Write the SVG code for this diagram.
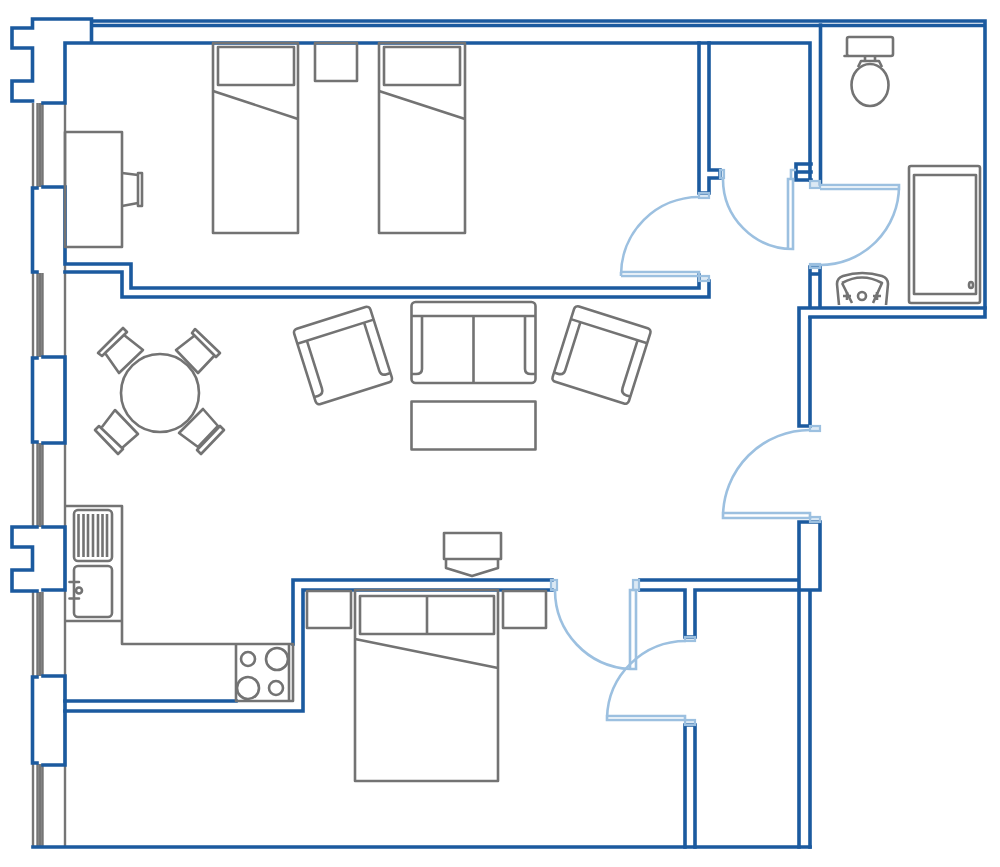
<svg xmlns="http://www.w3.org/2000/svg" width="1000" height="867" viewBox="0 0 1000 867">
<style>
.w{fill:none;stroke:#1b5a9f;stroke-width:3.600;stroke-linejoin:miter;stroke-linecap:square}
.f{fill:none;stroke:#737373;stroke-width:2.600;stroke-linejoin:round}
.g{fill:none;stroke:#757575;stroke-width:2.400}
.d{fill:none;stroke:#9cc0e0;stroke-width:2.600}
.h{fill:#9cc0e0;fill-opacity:.35;stroke:#9cc0e0;stroke-width:2.200}
</style>
<rect width="1000" height="867" fill="#fff"/>
<defs>
<g id="win">
<path class="g" d="M33 0V84M37.500 0V84M40 0V84M42.500 0V84"/>
</g>
<g id="chair">
<rect class="f" x="-40" y="-39.500" width="80" height="79" rx="4"/>
<path class="f" d="M-40-25H40M-30-25V25Q-30 31-36 31H-40M30-25V25Q30 31 36 31H40"/>
</g>
</defs>
<g id="windows">
<use href="#win" y="103"/><use href="#win" y="273"/><use href="#win" y="443"/><use href="#win" y="592"/><use href="#win" y="764"/>
</g>
<g id="inner-face"><path class="g" d="M65 103V847"/></g>
<g id="walls">
<path class="w" d="M91.500 19H32.500V28H12V48H32.500V81H12V101H32.500M43 103H65V43H810V180M91.500 19V43M91.500 21H985V317H810M91.500 25.500H985M820.500 25V184"/>
<path class="w" d="M37 188H32.500V272H37M43 187H65V264H131V288H699V275M65 272H122V297H709V281M699 43V193H709V178H720V170H709V43"/>
<path class="w" d="M796 164H811M796 172H811M796 180H811M796 164V180"/>
<path class="w" d="M32.500 358H37M32.500 358V442H37M43 357H65V443H43M43 527H65V590H43M37 527H12V547H32.500V570H12V591H37"/>
<path class="w" d="M37 677H32.500V763H37M43 676H65V765H43M33 847H810"/>
<path class="w" d="M65 701H236M65 711H303V590H552M293 644V580H552"/>
<path class="w" d="M810 267H820M810 274H820M810 267V307M820 267V307M799 426V308H985M810 426V318M799 426H810M810 522H820V590H695V637H685V590H640M799 522H810M799 522V847M810 590V847M640 580H799M685 725H695M685 725V847M695 725V847"/>
</g>
<g id="doors">
<path class="d" d="M699 197A78 78 0 0 0 621 275M621 272H699V276M621 276H699M621 272V276"/>
<rect class="h" x="699" y="193" width="10" height="5"/><rect class="h" x="699" y="276" width="10" height="5"/>
<path class="d" d="M723 178A70 70 0 0 0 793 249M788 179H793V249H788ZM791 179V170H796"/>
<rect class="h" x="720" y="170" width="4" height="8"/>
<path class="d" d="M820 265A79 79 0 0 0 899 186M820 185H899V189H820M811 265H820"/>
<rect class="h" x="810" y="181" width="10" height="7"/><rect class="h" x="810" y="264" width="10" height="4"/>
<path class="d" d="M810 430A87 87 0 0 0 723 517M723 513H810V518H723Z"/>
<rect class="h" x="810" y="426" width="10" height="5"/><rect class="h" x="810" y="517" width="10" height="5"/>
<path class="d" d="M555 590A79 79 0 0 0 630 669M630 590H636V669H630Z"/>
<rect class="h" x="551" y="580" width="6" height="10"/><rect class="h" x="633" y="580" width="6" height="10"/>
<path class="d" d="M686 641A79 79 0 0 0 607 718M607 716H685V720H607Z"/>
<rect class="h" x="685" y="637" width="10" height="4"/><rect class="h" x="685" y="720" width="10" height="5"/>
</g>
<g id="bedroom-1">
<rect class="f" x="213" y="43" width="85" height="190"/><rect class="f" x="218" y="47" width="76" height="38"/><path class="f" d="M213 91L298 119"/>
<rect class="f" x="379" y="43" width="86" height="190"/><rect class="f" x="384" y="47" width="76" height="38"/><path class="f" d="M379 91L465 119"/>
<rect class="f" x="315" y="43" width="42" height="38"/>
</g>
<g id="desk">
<rect class="f" x="65" y="132" width="57" height="115"/>
<path class="f" d="M122 173L138 175M122 206L138 203"/>
<rect class="f" x="138" y="173" width="4" height="33"/>
</g>
<g id="dining">
<circle class="f" cx="160" cy="393" r="39"/>
<path class="f" d="M98 353L123 328L127 332L102 356ZM105 353L124 335L143 350L119 373L105 353"/>
<path class="f" d="M195 329L220 353L216 357L192 333ZM194 336L176 350L198 373L215 355"/>
<path class="f" d="M95 430L99 426L123 449L118 454ZM102 427L115 410L138 434L122 448"/>
<path class="f" d="M197 450L220 426L224 430L201 454ZM179 433L203 409L218 426L198 447Z"/>
</g>
<g id="lounge">
<rect class="f" x="411.500" y="302" width="124" height="81" rx="4"/>
<path class="f" d="M411.500 316H535.500M473.500 316V383M422 316V369Q422 374 416 374H411.500M525 316V369Q525 374 531 374H535.500"/>
<rect class="f" x="411.500" y="401.500" width="124" height="48"/>
<use href="#chair" transform="translate(343 355.500) rotate(-17.500)"/>
<use href="#chair" transform="translate(601.500 355) rotate(17.500)"/>
<rect class="f" x="444" y="533" width="57" height="26"/>
<path class="f" d="M446 559V568L472 576L498 568V559"/>
</g>
<g id="kitchen">
<path class="f" d="M65 506H122V644H293V701H236V644M65 621H122M236 701H293M289 644V701"/>
<rect class="f" x="74" y="510" width="38" height="51" rx="4"/>
<path class="f" d="M78.500 514V557M83.500 514V557M88 514V557M93 514V557M98 514V557M102.500 514V557M107 514V557" stroke-width="2.400"/>
<rect class="f" x="74" y="566" width="38" height="51" rx="4"/>
<circle class="f" cx="79" cy="590.500" r="3"/>
<path class="f" d="M69.500 582H79M69.500 598.500H79" stroke-width="4" stroke-linecap="round"/>
<circle class="f" cx="248" cy="659" r="7"/><circle class="f" cx="277" cy="659" r="11"/><circle class="f" cx="248" cy="688" r="11"/><circle class="f" cx="276" cy="688" r="7"/>
</g>
<g id="bedroom-2">
<rect class="f" x="355" y="590" width="143" height="191"/>
<rect class="f" x="360" y="596" width="134" height="38"/><path class="f" d="M427 596V634M355 639L498 668"/>
<rect class="f" x="307" y="591" width="44" height="37"/><rect class="f" x="503" y="591" width="43" height="37"/>
</g>
<g id="bathroom">
<rect class="f" x="847" y="37" width="46" height="19" rx="2"/>
<path class="f" d="M844.500 56H848" stroke-width="3.500" stroke-linecap="round"/>
<ellipse class="f" cx="870" cy="85" rx="18.500" ry="21"/>
<path class="f" d="M858 67L861 61H879L882 67M865 56V61M875 56V61"/>
<rect class="f" x="909" y="166" width="71" height="137" rx="2"/>
<rect class="f" x="914" y="175" width="62" height="119"/>
<ellipse class="f" cx="971" cy="285" rx="2" ry="3"/>
<path class="f" d="M839 305L837 284Q837 278 843 276Q862 270 882 276Q888 278 888 284L886 305"/>
<path class="f" d="M842 283Q862 272 882 283L873 303M842 283L852 303"/>
<circle class="f" cx="862" cy="296" r="4"/>
<path class="f" d="M843 296H851M847 292V300M873 296H881M877 292V300"/>
</g>
</svg>
